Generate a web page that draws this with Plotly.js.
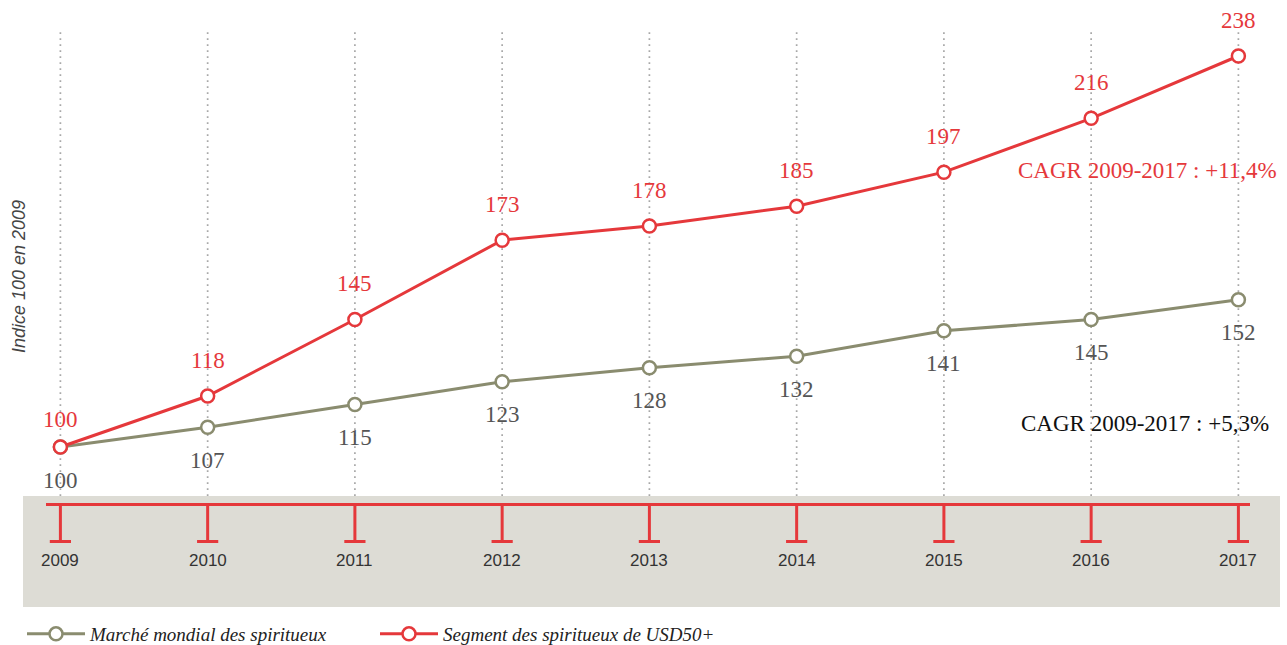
<!DOCTYPE html>
<html>
<head>
<meta charset="utf-8">
<script src="https://cdn.plot.ly/plotly-3.0.1.min.js"></script>
<style>html,body{margin:0;padding:0;background:#fff;overflow:hidden;}#chart{width:1287px;height:645px;}</style>
</head>
<body>
<div id="chart"></div>
<script>
const years = [2009, 2010, 2011, 2012, 2013, 2014, 2015, 2016, 2017];
const yearLabels = ["2009", "2010", "2011", "2012", "2013", "2014", "2015", "2016", "2017"];
const marcheMondial = [100, 107, 115, 123, 128, 132, 141, 145, 152];
const segmentUSD50 = [100, 118, 145, 173, 178, 185, 197, 216, 238];
const seriesNames = ["Marché mondial des spiritueux", "Segment des spiritueux de USD50+"];
const cagrTexts = ["CAGR 2009-2017 : +5,3%", "CAGR 2009-2017 : +11,4%"];
const yTitle = "Indice 100 en 2009";

const RED = "#e5383b";
const OLIVE = "#8a8c6f";
const SERIF = "Liberation Serif, 'DejaVu Serif', serif";
const NARROW = "'Liberation Sans Narrow', 'Liberation Sans', sans-serif";

const W = 1287, H = 645;
const pyFrom = px => 1 - px / H;
const pxFrom = px => px / W;

const traces = [
  {
    x: years, y: marcheMondial, name: seriesNames[0], type: "scatter", mode: "lines+markers",
    line: {color: OLIVE, width: 3},
    marker: {symbol: "circle", size: 13, color: "#ffffff", line: {color: OLIVE, width: 2.5}},
    cliponaxis: false
  },
  {
    x: years, y: segmentUSD50, name: seriesNames[1], type: "scatter", mode: "lines+markers",
    line: {color: RED, width: 3},
    marker: {symbol: "circle", size: 13, color: "#ffffff", line: {color: RED, width: 2.5}},
    cliponaxis: false
  }
];

const shapes = [];
shapes.push({type: "rect", xref: "paper", yref: "paper", x0: pxFrom(23), x1: pxFrom(1280),
  y0: pyFrom(607), y1: pyFrom(496), fillcolor: "#dddcd5", line: {width: 0}, layer: "below"});
years.forEach(yr => {
  shapes.push({type: "line", xref: "x", yref: "paper", x0: yr, x1: yr, y0: pyFrom(496), y1: pyFrom(30),
    line: {color: "#a8a8a8", width: 1.7, dash: "1.7px,4.3px"}, layer: "below"});
});
shapes.push({type: "line", xref: "paper", yref: "paper", x0: pxFrom(46), x1: pxFrom(1250),
  y0: pyFrom(504.5), y1: pyFrom(504.5), line: {color: RED, width: 3}, layer: "below"});
years.forEach(yr => {
  shapes.push({type: "line", xref: "x", yref: "paper", x0: yr, x1: yr, y0: pyFrom(504.5), y1: pyFrom(541.5),
    line: {color: RED, width: 3}, layer: "below"});
  shapes.push({type: "line", xref: "x", yref: "paper", x0: yr - 0.072, x1: yr + 0.072, y0: pyFrom(541.5), y1: pyFrom(541.5),
    line: {color: RED, width: 3}, layer: "below"});
});

const annotations = [];
years.forEach((yr, i) => {
  annotations.push({x: yr, y: segmentUSD50[i], xref: "x", yref: "y", text: String(segmentUSD50[i]),
    showarrow: false, xanchor: "center", yanchor: "middle", yshift: i === 0 ? 28 : 36,
    font: {family: SERIF, size: 23, color: RED}});
  annotations.push({x: yr, y: marcheMondial[i], xref: "x", yref: "y", text: String(marcheMondial[i]),
    showarrow: false, xanchor: "center", yanchor: "middle", yshift: -33,
    font: {family: SERIF, size: 23, color: "#555555"}});
  annotations.push({x: yr, y: pyFrom(560), xref: "x", yref: "paper", text: yearLabels[i],
    showarrow: false, xanchor: "center", yanchor: "middle",
    font: {family: NARROW, size: 17, color: "#333333"}});
});
annotations.push({x: pxFrom(1279), y: pyFrom(170), xref: "paper", yref: "paper", xanchor: "right", yanchor: "middle",
  text: cagrTexts[1], showarrow: false, font: {family: SERIF, size: 23, color: RED}});
annotations.push({x: pxFrom(1271), y: pyFrom(423), xref: "paper", yref: "paper", xanchor: "right", yanchor: "middle",
  text: cagrTexts[0], showarrow: false, font: {family: SERIF, size: 23, color: "#111111"}});
annotations.push({x: pxFrom(19), y: pyFrom(277), xref: "paper", yref: "paper", xanchor: "center", yanchor: "middle",
  textangle: -90, text: "<i>" + yTitle + "</i>", showarrow: false,
  font: {family: NARROW, size: 18, color: "#444444"}});

// horizontal mapping: 2013 -> 649.4 px, 147.25 px per year ; vertical: 100 -> 447 px
const pxPerYr = 147.25, midPx = 649.4, midYr = 2013;
const pxPerU = 391 / 138, y0px = 447;
const layout = {
  width: W, height: H,
  margin: {l: 0, r: 0, t: 0, b: 0, pad: 0, autoexpand: false},
  paper_bgcolor: "#ffffff", plot_bgcolor: "rgba(0,0,0,0)",
  xaxis: {range: [midYr - midPx / pxPerYr, midYr + (W - midPx) / pxPerYr], showgrid: false, zeroline: false,
    showticklabels: false, showline: false, fixedrange: true},
  yaxis: {range: [100 - (H - y0px) / pxPerU, 100 + y0px / pxPerU], showgrid: false, zeroline: false,
    showticklabels: false, showline: false, fixedrange: true},
  showlegend: true,
  legend: {orientation: "h", x: pxFrom(22), y: pyFrom(634), xanchor: "left", yanchor: "middle",
    bgcolor: "rgba(0,0,0,0)", entrywidth: 280, entrywidthmode: "pixels", itemwidth: 58,
    font: {family: SERIF, size: 19, color: "#222222", style: "italic"}},
  shapes: shapes,
  annotations: annotations
};

Plotly.newPlot("chart", traces, layout, {displayModeBar: false, staticPlot: true});
</script>
</body>
</html>
